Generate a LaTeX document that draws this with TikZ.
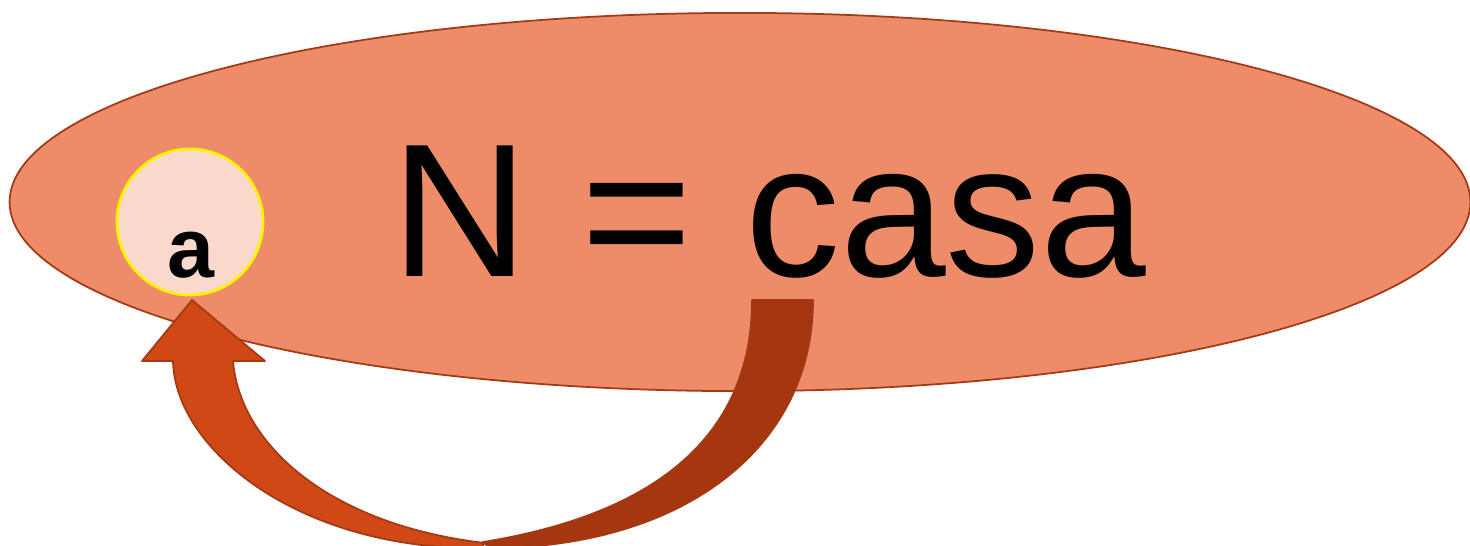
\documentclass[tikz,border=0pt]{standalone}
\usepackage{fontspec}
\setmainfont{Liberation Sans}
\usetikzlibrary{shapes.geometric}
\definecolor{blobfill}{HTML}{EE8C6A}
\definecolor{rimred}{HTML}{A33A15}
\definecolor{bandback}{HTML}{A5360F}
\definecolor{bandfront}{HTML}{D04816}
\definecolor{dotfill}{HTML}{F8D9CC}
\begin{document}
\begin{tikzpicture}[x=0.01cm, y=-0.01cm,
      blob/.style={ellipse, draw=rimred, fill=blobfill, line width=0.5pt, minimum width=14.6cm, minimum height=3.78cm, inner sep=0pt},
      dot/.style={circle, draw=yellow, fill=dotfill, line width=0.8pt, minimum size=1.46cm, inner sep=0pt},
      band/.style={draw=rimred, line width=0.5pt, line join=round}]
      \useasboundingbox (0,0) rectangle (1470,545);
      \node[blob] (blob) at (740,202) {};
      \node[dot] (dot) at (190,222) {};
      \node[anchor=base, inner sep=0pt, font=\fontsize{24}{24}\selectfont\bfseries] (letter) at (191,277) {a};
      \node[anchor=base, inner sep=0pt, font=\fontsize{54}{54}\selectfont] (word) at (769,276) {N = casa};
      % curved arrow, back part
      \filldraw[band, fill=bandback] (752,300) -- (813,300) .. controls (813,450) and (680,548) .. (490,548)
        -- (483,542) .. controls (650,515) and (752,440) .. (752,300) -- cycle;
      % curved arrow, front part with head
      \filldraw[band, fill=bandfront] (192,300) -- (265,361) -- (233,361) .. controls (240,445) and (330,525) .. (485,543)
        -- (480,548) .. controls (300,550) and (175,450) .. (173,361) -- (142,361) -- cycle;
    \end{tikzpicture}
\end{document}
